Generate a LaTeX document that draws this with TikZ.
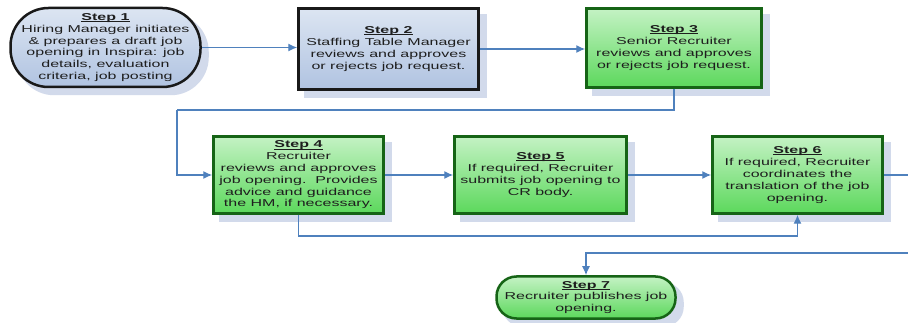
\documentclass[tikz,border=0pt]{standalone}
\usepackage{fontspec}
\setmainfont{Liberation Sans}[FakeStretch=1.6]
\usetikzlibrary{arrows.meta,backgrounds}
\definecolor{conn}{RGB}{79,129,189}
\definecolor{txt}{RGB}{30,30,30}
\definecolor{shadowc}{RGB}{210,218,235}
\definecolor{blueTop}{RGB}{220,229,242}
\definecolor{blueBot}{RGB}{176,195,225}
\definecolor{greenTop}{RGB}{196,242,196}
\definecolor{greenBot}{RGB}{92,216,92}
\definecolor{blueEdge}{RGB}{25,25,25}
\definecolor{greenEdge}{RGB}{22,100,22}
\newcommand{\stephead}[1]{\setbox0\hbox{\textbf{Step #1}}\rlap{\rule[-1.4pt]{\wd0}{0.8pt}}\box0}
\tikzset{
  stepbox/.style={rectangle, line width=2.5pt, align=center, inner sep=0pt,
    font=\fontsize{10}{11.8}\selectfont, text=txt},
  bluebox/.style={stepbox, draw=blueEdge, top color=blueTop, bottom color=blueBot},
  greenbox/.style={stepbox, draw=greenEdge, top color=greenTop, bottom color=greenBot},
  conline/.style={draw=conn, line width=1.4pt},
  conarrow/.style={conline, -{Latex[length=9pt,width=8pt]}},
  shadowbox/.style={fill=shadowc}
}
\begin{document}
\begin{tikzpicture}[x=1pt,y=-1pt]
\useasboundingbox (0,0) rectangle (908,323);

\node[bluebox, rounded corners=38pt, minimum width=190pt, minimum height=79pt] (s1) at (105.5,47.5)
  {\stephead{1}\\Hiring Manager initiates\\\& prepares a draft job\\opening in Inspira: job\\details, evaluation\\criteria, job posting};
\node[bluebox, minimum width=180pt, minimum height=81pt] (s2) at (388.5,49)
  {\stephead{2}\\Staffing Table Manager\\reviews and approves\\or rejects job request.};
\node[greenbox, minimum width=175pt, minimum height=79pt] (s3) at (674,48)
  {\stephead{3}\\Senior Recruiter\\reviews and approves\\or rejects job request.};
\node[greenbox, minimum width=170pt, minimum height=77pt] (s4) at (298.5,175)
  {\stephead{4}\\Recruiter\\reviews and approves\\job opening.\ \ Provides\\advice and guidance\\the HM, if necessary.};
\node[greenbox, minimum width=172pt, minimum height=77pt] (s5) at (540.5,175)
  {\stephead{5}\\If required, Recruiter\\submits job opening to\\CR body.};
\node[greenbox, minimum width=170pt, minimum height=77pt] (s6) at (797.5,175)
  {\stephead{6}\\If required, Recruiter\\coordinates the\\translation of the job\\opening.};
\node[greenbox, rounded corners=20pt, minimum width=179pt, minimum height=42pt] (s7) at (586,297.5)
  {\stephead{7}\\Recruiter publishes job\\opening.};

\begin{scope}[on background layer]
  \fill[white] (0,0) rectangle (908,323);
  \fill[shadowbox, rounded corners=38pt] ([shift={(7,7)}]s1.north west) rectangle ([shift={(7,7)}]s1.south east);
  \foreach \n in {s2,s3,s4,s5,s6}
    \fill[shadowbox] ([shift={(7,7)}]\n.north west) rectangle ([shift={(7,7)}]\n.south east);
  \fill[shadowbox, rounded corners=20pt] ([shift={(7,7)}]s7.north west) rectangle ([shift={(7,7)}]s7.south east);
\end{scope}

\coordinate (c34) at (177,110);
\coordinate (c46) at (500,236);
\coordinate (e1) at (908,175);
\coordinate (e2) at (908,253);

\draw[conarrow] (s1.east) -- (s1.east -| s2.west);
\draw[conarrow] (s2.east) -- (s2.east -| s3.west);
\draw[conline] (s3.south) |- (c34);
\draw[conarrow] (c34) |- (s4.west);
\draw[conarrow] (s4.east) -- (s5.west);
\draw[conarrow] (s5.east) -- (s6.west);
\draw[conline] (s4.south) |- (c46);
\draw[conarrow] (c46) -| (s6.south);
\draw[conline] (s6.east) -- (e1);
\draw[conarrow] (e2) -| (s7.north);
\end{tikzpicture}
\end{document}
